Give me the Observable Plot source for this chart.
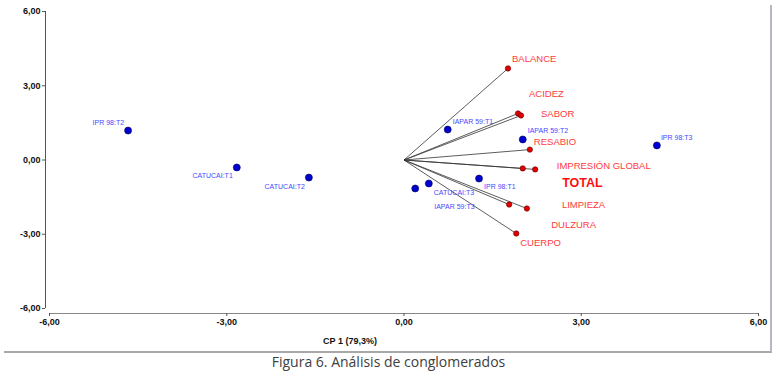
<!DOCTYPE html>
<html>
<head>
<meta charset="utf-8">
<script src="https://cdn.jsdelivr.net/npm/d3@7"></script>
<script src="https://cdn.jsdelivr.net/npm/@observablehq/plot@0.6"></script>
<style>
  body { margin: 0; width: 777px; background: #fff; font-family: "Liberation Sans", Arial, sans-serif; }
  #wrap { margin-top: 5px; margin-left: 4px; width: 766px; border-right: 2px solid #b4b8c0; border-bottom: 2px solid #a8a8a8; }
  #caption { font-family: "Open Sans", sans-serif; font-size: 14px; color: #404040; text-align: center; line-height: 18px; }
</style>
</head>
<body>
<div id="wrap"></div>
<div id="caption">Figura 6. Análisis de conglomerados</div>
<script>
// Observations (blue points)
const obsNames = ["IPR 98:T2", "CATUCAI:T1", "CATUCAI:T2", "IAPAR 59:T1", "IAPAR 59:T2", "IPR 98:T3", "IPR 98:T1", "CATUCAI:T3", "IAPAR 59:T3"];
const obsX = [-4.67, -2.83, -1.61, 0.74, 2.01, 4.28, 1.27, 0.42, 0.19];
const obsY = [1.19, -0.30, -0.71, 1.23, 0.83, 0.59, -0.75, -0.95, -1.15];

// Variables (red vectors)
const varNames = ["BALANCE", "ACIDEZ", "SABOR", "RESABIO", "IMPRESIÓN GLOBAL", "TOTAL", "LIMPIEZA", "DULZURA", "CUERPO"];
const varX = [1.76, 1.93, 1.98, 2.13, 2.01, 2.22, 2.08, 1.78, 1.90];
const varY = [3.70, 1.88, 1.80, 0.42, -0.34, -0.38, -1.96, -1.80, -2.97];

const axisTicks = [-6, -3, 0, 3, 6];
const xLabel = "CP 1 (79,3%)";

const obs = obsNames.map((name, i) => ({name, x: obsX[i], y: obsY[i]}));
const vars = varNames.map((name, i) => ({name, x: varX[i], y: varY[i]}));

// label placement (pixel offsets, layout only)
const obsLabelLayout = {
  "IPR 98:T2": ["end", -4, -8],
  "CATUCAI:T1": ["end", -4, 8],
  "CATUCAI:T2": ["end", -4, 9],
  "IAPAR 59:T1": ["start", 5, -8],
  "IAPAR 59:T2": ["start", 5, -9],
  "IPR 98:T3": ["start", 4, -8],
  "IPR 98:T1": ["start", 5, 8],
  "CATUCAI:T3": ["start", 5, 9],
  "IAPAR 59:T3": ["start", 19, 18]
};
const varLabelLayout = {
  "BALANCE": [4, -9],
  "ACIDEZ": [11, -20],
  "SABOR": [20, -1],
  "RESABIO": [4, -8],
  "IMPRESIÓN GLOBAL": [34, -2],
  "TOTAL": [27, 14],
  "LIMPIEZA": [35, -4],
  "DULZURA": [42, 20],
  "CUERPO": [4, 9]
};

const fmt = d => d.toFixed(2).replace(".", ",");

const obsLabelMarks = obs.map(d => {
  const [anchor, dx, dy] = obsLabelLayout[d.name];
  return Plot.text([d], {x: "x", y: "y", text: "name", textAnchor: anchor, dx, dy,
    fill: "#4848ff", fontSize: 7, lineAnchor: "middle"});
});
const varLabelMarks = vars.map(d => {
  const [dx, dy] = varLabelLayout[d.name];
  const isTotal = d.name === "TOTAL";
  return Plot.text([d], {x: "x", y: "y", text: "name", textAnchor: "start", dx, dy,
    fill: isTotal ? "#ff1010" : "#ff3a3a", fontSize: isTotal ? 12.5 : 9.5,
    fontWeight: isTotal ? "bold" : "normal", lineAnchor: "middle"});
});

const chart = Plot.plot({
  width: 766,
  height: 346,
  marginLeft: 41,
  marginRight: 12,
  marginTop: 6,
  marginBottom: 38,
  insetLeft: 4,
  insetBottom: 5,
  style: {fontFamily: "'Liberation Sans', Arial, sans-serif", background: "#fff"},
  x: {domain: [-6, 6]},
  y: {domain: [-6, 6]},
  marks: [
    Plot.ruleX([-6], {y1: -6, y2: 6, dx: -4, stroke: "#555", strokeWidth: 1}),
    Plot.ruleY([-6], {x1: -6, x2: 6, dy: 5, stroke: "#888", strokeWidth: 1}),
    Plot.axisY({ticks: axisTicks, tickFormat: fmt, tickSize: 3, tickPadding: 2, label: null,
      fontSize: 9, fontWeight: "bold", color: "#111", stroke: "#555"}),
    Plot.axisX({ticks: axisTicks, tickFormat: fmt, tickSize: 3, tickPadding: 2, label: null,
      fontSize: 9, fontWeight: "bold", color: "#111", stroke: "#555"}),
    Plot.text([xLabel], {frameAnchor: "bottom", dx: -52, dy: 28, fontSize: 9, fontWeight: "bold", fill: "#111", lineAnchor: "middle"}),
    Plot.link(vars, {x1: () => 0, y1: () => 0, x2: "x", y2: "y", stroke: "#333", strokeWidth: 0.8}),
    Plot.dot(vars, {x: "x", y: "y", r: 2.7, fill: "#e00000", stroke: "#600000", strokeWidth: 0.6}),
    Plot.dot(obs, {x: "x", y: "y", r: 3.5, fill: "#0000d0", stroke: "#000050", strokeWidth: 0.6}),
    ...obsLabelMarks,
    ...varLabelMarks
  ]
});
document.getElementById("wrap").appendChild(chart);
</script>
</body>
</html>
